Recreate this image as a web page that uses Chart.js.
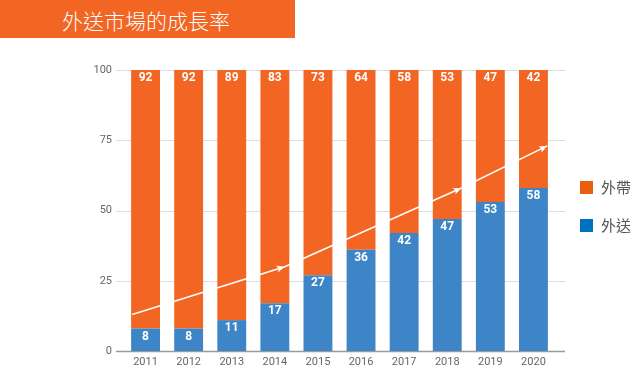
<!DOCTYPE html>
<html>
<head>
<meta charset="utf-8">
<script src="https://cdn.jsdelivr.net/npm/chart.js@4"></script>
<style>
  body { margin: 0; background: #fff; }
  #wrap { position: relative; width: 640px; height: 385px; }
  #titulo {
    position: absolute; left: 0; top: 0; width: 295px; height: 38px;
    background: #F26522; color: #fff;
    font-family: "Noto Sans CJK TC", sans-serif; font-weight: 300; font-size: 21px;
    line-height: 40px; padding-left: 62px; box-sizing: border-box;
  }
  .leg { position: absolute; left: 580px; font-family: "Noto Sans CJK TC", sans-serif; font-size: 15px; color: #555; }
  .leg span { display: inline-block; width: 13px; height: 13px; vertical-align: -1px; margin-right: 8px; }
</style>
</head>
<body>
<div id="wrap">
  <canvas id="grafico" width="640" height="385"></canvas>
  <div id="titulo">外送市場的成長率</div>
  <div class="leg" style="top:176px"><span style="background:#E8600F"></span>外帶</div>
  <div class="leg" style="top:214px"><span style="background:#0070C0"></span>外送</div>
</div>
<script>
/* ============================
   DADOS
============================ */
const anos = ["2011", "2012", "2013", "2014", "2015", "2016", "2017", "2018", "2019", "2020"];
const entrega = [8, 8, 11, 17, 27, 36, 42, 47, 53, 58];     // 外送
const retirada = [92, 92, 89, 83, 73, 64, 58, 53, 47, 42];  // 外帶
const ticksY = [0, 25, 50, 75, 100];

// seta de tendência: posição em índice de categoria / valor
const setaX = [-0.31, 3.23, 7.33, 9.32];
const setaY = [13, 30, 58, 73];

/* ============================
   PLUGINS
============================ */
const gradePlugin = {
    id: "grade",
    beforeDatasetsDraw(chart) {
        const { ctx, chartArea, scales } = chart;
        ctx.save();
        ticksY.forEach(v => {
            const y = Math.round(scales.y.getPixelForValue(v)) + 0.5;
            ctx.strokeStyle = v === 0 ? "#9a9a9a" : "#dddddd";
            ctx.lineWidth = v === 0 ? 1.5 : 1;
            ctx.beginPath();
            ctx.moveTo(chartArea.left - 8, y);
            ctx.lineTo(chartArea.right + 10, y);
            ctx.stroke();
        });
        ctx.restore();
    }
};

const rotulosPlugin = {
    id: "rotulos",
    afterDatasetsDraw(chart) {
        const { ctx, scales } = chart;
        ctx.save();
        ctx.fillStyle = "#fff";
        ctx.font = "bold 12px Roboto";
        ctx.textAlign = "center";
        ctx.textBaseline = "middle";
        chart.data.datasets.forEach((ds, i) => {
            chart.getDatasetMeta(i).data.forEach((bar, j) => {
                ctx.fillText(ds.data[j], bar.x, bar.y + 8);
            });
        });

        // seta branca
        const pts = setaX.map((x, k) => ({
            x: scales.x.getPixelForValue(0) + x * (scales.x.getPixelForValue(1) - scales.x.getPixelForValue(0)),
            y: scales.y.getPixelForValue(setaY[k])
        }));
        ctx.strokeStyle = "#fff";
        ctx.lineWidth = 1.5;
        ctx.beginPath();
        ctx.moveTo(pts[0].x, pts[0].y);
        for (let k = 1; k < pts.length; k++) ctx.lineTo(pts[k].x, pts[k].y);
        ctx.stroke();
        for (let k = 1; k < pts.length; k++) {
            const a = Math.atan2(pts[k].y - pts[k - 1].y, pts[k].x - pts[k - 1].x);
            ctx.beginPath();
            ctx.moveTo(pts[k].x, pts[k].y);
            ctx.lineTo(pts[k].x - 9 * Math.cos(a - 0.4), pts[k].y - 9 * Math.sin(a - 0.4));
            ctx.lineTo(pts[k].x - 6 * Math.cos(a), pts[k].y - 6 * Math.sin(a));
            ctx.lineTo(pts[k].x - 9 * Math.cos(a + 0.4), pts[k].y - 9 * Math.sin(a + 0.4));
            ctx.closePath();
            ctx.fillStyle = "#fff";
            ctx.fill();
        }
        ctx.restore();
    }
};

/* ============================
   GRÁFICO
============================ */
const ctx = document.getElementById("grafico").getContext("2d");

new Chart(ctx, {
    type: "bar",
    data: {
        labels: anos,
        datasets: [
            { label: "外送", data: entrega, backgroundColor: "#3D85C6" },
            { label: "外帶", data: retirada, backgroundColor: "#F26522" }
        ]
    },
    options: {
        responsive: false,
        animation: false,
        layout: { padding: { top: 70, right: 85, bottom: 0, left: 0 } },
        datasets: { bar: { categoryPercentage: 1, barPercentage: 0.67 } },
        plugins: {
            legend: { display: false },
            tooltip: { enabled: false }
        },
        scales: {
            x: {
                stacked: true,
                grid: { display: false, drawTicks: false },
                border: { display: false },
                ticks: { color: "#666", font: { family: "Roboto", size: 11 }, padding: 5 },
                afterFit(s) { s.height = 34; }
            },
            y: {
                stacked: true,
                min: 0,
                max: 100,
                afterBuildTicks(s) { s.ticks = ticksY.map(v => ({ value: v })); },
                grid: { display: false, drawTicks: false },
                border: { display: false },
                ticks: { color: "#666", font: { family: "Roboto", size: 11 }, padding: 12 },
                afterFit(s) { s.width = 124; }
            }
        }
    },
    plugins: [gradePlugin, rotulosPlugin]
});
</script>
</body>
</html>
